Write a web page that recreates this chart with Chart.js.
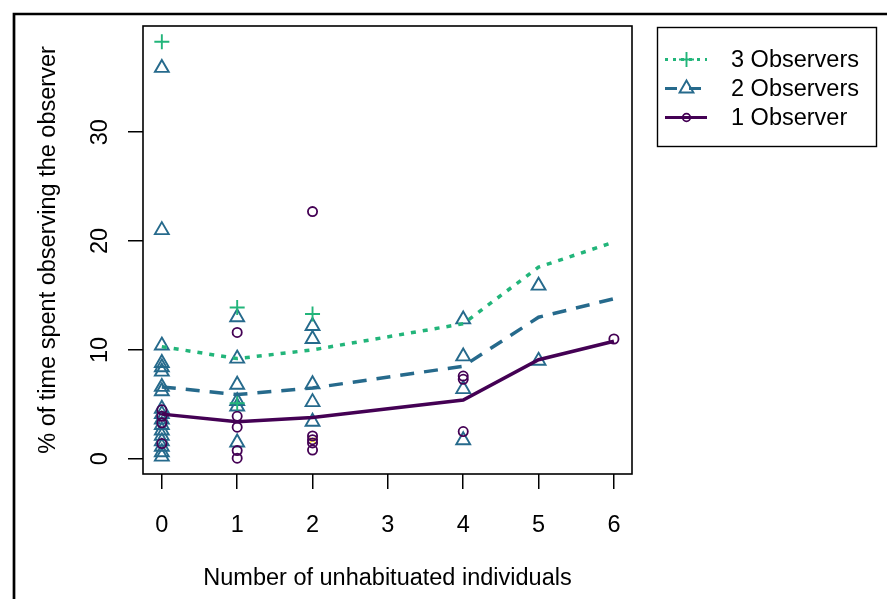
<!DOCTYPE html>
<html><head><meta charset="utf-8">
<script src="https://cdn.jsdelivr.net/npm/chart.js@4/dist/chart.umd.min.js"></script>
<style>html,body{margin:0;padding:0;background:#fff}canvas{display:block}</style>
</head><body>
<canvas id="c" width="887" height="599"></canvas>
<script>
// ---- data ----
const fitX = [0, 1, 2, 4, 5, 6];
const fit3 = [10.3, 9.2, 10.0, 12.4, 17.6, 19.9];
const fit2 = [6.6, 5.9, 6.5, 8.5, 13.0, 14.7];
const fit1 = [4.1, 3.4, 3.8, 5.4, 9.1, 10.8];

const obs3X = [0, 1, 1, 2];
const obs3Y = [38.3, 13.9, 5.1, 13.3];

const obs2X = [0,0,0,0,0,0,0,0,0,0,0,0,0,0,0,0,0,0, 1,1,1,1,1,1, 2,2,2,2,2, 4,4,4,4, 5,5];
const obs2Y = [35.9,21.0,10.4,8.8,8.4,8.0,6.6,6.2,4.6,4.1,3.6,3.1,2.6,2.1,1.6,1.1,0.6,0.2,
               13.0,9.2,6.8,5.3,4.8,1.5,
               12.2,11.0,6.85,5.2,3.4,
               12.8,9.4,6.4,1.7,
               15.9,9.0];

const obs1X = [0,0,0,0, 1,1,1,1,1, 2,2,2,2,2, 4,4,4, 6];
const obs1Y = [4.5,3.9,3.3,1.4, 11.6,3.9,2.9,0.75,0.05, 22.7,2.1,1.75,1.45,0.8, 7.6,7.3,2.5, 11.0];

const otherX = [2];
const otherY = [1.7];

const xTickLabels = ['0','1','2','3','4','5','6'];
const yTickLabels = ['0','10','20','30'];
const legendLabels = ['3 Observers', '2 Observers', '1 Observer'];
const xTitle = 'Number of unhabituated individuals';
const yTitle = '% of time spent observing the observer';

// ---- style ----
const G = '#22B57A', B = '#266A8C', P = '#440154', Y = '#FDE725';
const FONT = '"Liberation Sans", Arial, sans-serif';
const FS = 23.5;

const pts = (xs, ys) => xs.map((x, i) => ({x: x, y: ys[i]}));

const framePlugin = {
  id: 'frame',
  beforeDraw(chart) {
    const ctx = chart.ctx;
    ctx.save();
    ctx.fillStyle = '#fff';
    ctx.fillRect(0, 0, chart.width, chart.height);
    ctx.strokeStyle = '#000';
    ctx.lineWidth = 2.7;
    ctx.beginPath();
    ctx.moveTo(14, chart.height + 5);
    ctx.lineTo(14, 14);
    ctx.lineTo(chart.width + 5, 14);
    ctx.stroke();
    ctx.restore();
  },
  afterDatasetsDraw(chart) {
    const a = chart.chartArea, ctx = chart.ctx;
    ctx.save();
    ctx.strokeStyle = '#000';
    ctx.lineWidth = 1.6;
    ctx.setLineDash([]);
    ctx.strokeRect(a.left, a.top, a.right - a.left, a.bottom - a.top);
    ctx.restore();
  }
};

function marker(ctx, style, x, y, r, color, lw) {
  ctx.save();
  ctx.setLineDash([]);
  ctx.strokeStyle = color;
  ctx.lineWidth = lw;
  ctx.beginPath();
  if (style === 'cross') {
    ctx.moveTo(x - r, y); ctx.lineTo(x + r, y);
    ctx.moveTo(x, y - r); ctx.lineTo(x, y + r);
  } else if (style === 'triangle') {
    ctx.moveTo(x, y - r);
    ctx.lineTo(x + Math.sin(2 * Math.PI / 3) * r, y + r / 2);
    ctx.lineTo(x - Math.sin(2 * Math.PI / 3) * r, y + r / 2);
    ctx.closePath();
  } else {
    ctx.arc(x, y, r, 0, Math.PI * 2);
  }
  ctx.stroke();
  ctx.restore();
}

const legendPlugin = {
  id: 'rlegend',
  afterDraw(chart) {
    const ctx = chart.ctx;
    ctx.save();
    ctx.strokeStyle = '#000';
    ctx.lineWidth = 1.4;
    ctx.strokeRect(657.5, 27.5, 219, 119);
    const rows = [
      {y: 59.5, color: G, dash: [3, 5], style: 'cross', r: 7.5, lw: 1.9},
      {y: 88.5, color: B, dash: [12, 12], style: 'triangle', r: 8, lw: 1.9},
      {y: 117.5, color: P, dash: [], style: 'circle', r: 3.8, lw: 1.8}
    ];
    rows.forEach((row, i) => {
      ctx.save();
      ctx.beginPath();
      ctx.setLineDash(row.dash);
      ctx.lineWidth = 3;
      ctx.strokeStyle = row.color;
      ctx.moveTo(665, row.y);
      ctx.lineTo(707, row.y);
      ctx.stroke();
      ctx.restore();
      marker(ctx, row.style, 686.5, row.y, row.r, row.color, row.lw);
      ctx.fillStyle = '#000';
      ctx.font = FS + 'px ' + FONT;
      ctx.textBaseline = 'middle';
      ctx.textAlign = 'left';
      ctx.fillText(legendLabels[i], 731, row.y + 1);
    });
    ctx.restore();
  }
};

const pointDs = (label, data, style, r, color, lw, order) => ({
  label: label, data: data, showLine: false,
  pointStyle: style, pointRadius: r, pointHoverRadius: r,
  pointBorderColor: color, pointBackgroundColor: 'rgba(0,0,0,0)',
  pointBorderWidth: lw, borderColor: color, backgroundColor: 'rgba(0,0,0,0)', order: order
});
const lineDs = (label, data, color, dash, order) => ({
  label: label, data: data, showLine: true, pointRadius: 0, pointHoverRadius: 0,
  borderColor: color, borderWidth: 3.5, borderDash: dash, borderCapStyle: 'butt',
  fill: false, tension: 0, order: order
});

new Chart(document.getElementById('c'), {
  type: 'scatter',
  data: {
    datasets: [
      lineDs('fit 3', pts(fitX, fit3), G, [5, 7], 0),
      lineDs('fit 2', pts(fitX, fit2), B, [14, 10], 0),
      lineDs('fit 1', pts(fitX, fit1), P, [], 0),
      pointDs(legendLabels[0], pts(obs3X, obs3Y), 'cross', 7.5, G, 1.9, 1),
      pointDs(legendLabels[1] + ' ', pts(obs2X, obs2Y), 'triangle', 8, B, 1.9, 3),
      pointDs(legendLabels[2], pts(obs1X, obs1Y), 'circle', 4.6, P, 1.8, 2),
      pointDs('other', pts(otherX, otherY), 'crossRot', 4, Y, 1.3, 4)
    ]
  },
  options: {
    responsive: false,
    animation: false,
    events: [],
    layout: {padding: {left: 0, top: 26, right: 255, bottom: 0}},
    plugins: {legend: {display: false}, tooltip: {enabled: false}},
    scales: {
      x: {
        type: 'linear', min: -0.25, max: 6.24,
        afterFit: s => { s.height = 125; s.paddingLeft = 0; s.paddingRight = 0; },
        border: {display: false},
        grid: {drawOnChartArea: false, drawTicks: true, tickLength: 15, color: '#000', lineWidth: 1.5},
        ticks: {stepSize: 1, includeBounds: false, autoSkip: false, maxRotation: 0, minRotation: 0,
                padding: 22, color: '#000', font: {family: FONT, size: FS},
                callback: v => xTickLabels[v] !== undefined ? xTickLabels[v] : ''},
        title: {display: true, text: xTitle, color: '#000', font: {family: FONT, size: FS},
                padding: {top: 0, bottom: 6}}
      },
      y: {
        type: 'linear', min: -1.4, max: 39.75,
        afterFit: s => { s.width = 143; s.paddingTop = 0; s.paddingBottom = 0; },
        border: {display: false},
        grid: {drawOnChartArea: false, drawTicks: true, tickLength: 15, color: '#000', lineWidth: 1.5},
        ticks: {stepSize: 10, includeBounds: false, autoSkip: false, minRotation: 90, maxRotation: 90,
                crossAlign: 'center', padding: 14, color: '#000', font: {family: FONT, size: FS},
                callback: v => yTickLabels[v / 10] !== undefined ? yTickLabels[v / 10] : ''},
        title: {display: true, text: yTitle, color: '#000', font: {family: FONT, size: FS},
                padding: {top: 34, bottom: 0}}
      }
    }
  },
  plugins: [framePlugin, legendPlugin]
});
</script>
</body></html>
